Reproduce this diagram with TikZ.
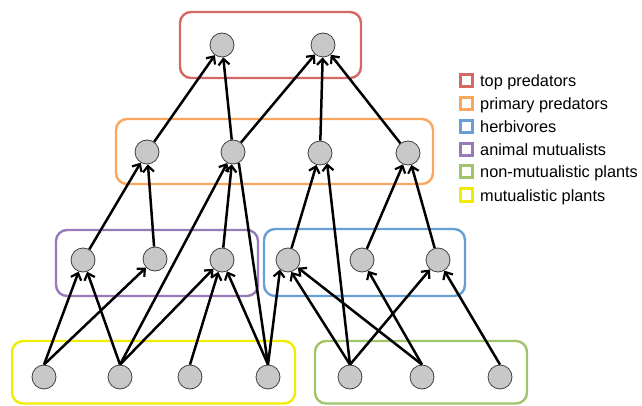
\documentclass[tikz,border=0pt]{standalone}
\usepackage{fontspec}
\setmainfont{Liberation Sans}
\usetikzlibrary{arrows.meta}
\definecolor{cred}{RGB}{214,104,100}
\definecolor{corange}{RGB}{250,166,92}
\definecolor{cblue}{RGB}{104,158,214}
\definecolor{cpurple}{RGB}{152,122,186}
\definecolor{cgreen}{RGB}{162,196,104}
\definecolor{cyellow}{RGB}{242,236,0}
\definecolor{nodefill}{RGB}{200,200,200}
\begin{document}
\begin{tikzpicture}[x=1pt,y=-1pt,
  sp/.style={circle,draw=black!75,fill=nodefill,line width=0.8pt,minimum size=24pt,inner sep=0pt},
  grp/.style={draw=#1,line width=2.4pt,rounded corners=11pt},
  arr/.style={-{Straight Barb[length=6pt,width=11pt,line width=2.2pt]},line width=2.5pt,black},
  plain/.style={line width=2.5pt,black},
  lkey/.style={draw=#1,line width=3pt,fill=white,minimum size=12pt,inner sep=0pt},
  ltext/.style={anchor=base west,font=\fontsize{16.3}{18}\selectfont,inner sep=0pt}]
\useasboundingbox (0,0) rectangle (642,406);
% group frames
\draw[grp=cred]    (180,12)  rectangle (361,78);
\draw[grp=corange] (116,119) rectangle (433,184);
\draw[grp=cpurple] (56,230)  rectangle (258,296);
\draw[grp=cblue]   (264,229) rectangle (465,296);
\draw[grp=cyellow] (12,341)  rectangle (295,403.5);
\draw[grp=cgreen]  (315,341) rectangle (527,403.5);
% species
\node[sp] (T1) at (222,45) {};
\node[sp] (T2) at (323,45) {};
\node[sp] (P1) at (147,152) {};
\node[sp] (P2) at (233,152) {};
\node[sp] (P3) at (320,153) {};
\node[sp] (P4) at (408,153) {};
\node[sp] (A1) at (83,260) {};
\node[sp] (A2) at (155,259) {};
\node[sp] (A3) at (222,260) {};
\node[sp] (H1) at (288,260) {};
\node[sp] (H2) at (362,260) {};
\node[sp] (H3) at (438,260) {};
\node[sp] (M1) at (44,377) {};
\node[sp] (M2) at (120,377) {};
\node[sp] (M3) at (190,377) {};
\node[sp] (M4) at (268,377) {};
\node[sp] (N1) at (350,377) {};
\node[sp] (N2) at (422,377) {};
\node[sp] (N3) at (500,377) {};
% links
\draw[arr] (P1) -- (T1);
\draw[arr] (P2) -- (T1);
\draw[arr] (P2) -- (T2);
\draw[arr] (P3) -- (T2);
\draw[arr] (P4) -- (T2);
\draw[arr] (A1) -- (P1);
\draw[arr] (A2) -- (P1);
\draw[arr] (M2.north) -- (P2);
\draw[arr] (A3) -- (P2);
\draw[plain] (P2.-62) -- (M4.north);
\draw[arr] (H1) -- (P3);
\draw[arr] (N1.north) -- (P3.-55);
\draw[arr] (H2) -- (P4);
\draw[arr] (H3) -- (P4);
\draw[arr] (M1.north) -- (A1);
\draw[arr] (M2.north) -- (A1);
\draw[arr] (M1.north) -- (A2);
\draw[arr] (M2.north) -- (A3);
\draw[arr] (M3.north) -- (A3);
\draw[arr] (M4.north) -- (A3);
\draw[arr] (M4.north) -- (H1.-130);
\draw[arr] (N1.north) -- (H1.-75);
\draw[arr] (N2.north) -- (H1);
\draw[arr] (N2.north) -- (H2);
\draw[arr] (N1.north) -- (H3);
\draw[arr] (N3.north) -- (H3);
% legend
\node[lkey=cred]    (k1) at (466,81.0) {};
\node[lkey=corange] (k2) at (466,103.5) {};
\node[lkey=cblue]   (k3) at (466,126.5) {};
\node[lkey=cpurple] (k4) at (466,149.5) {};
\node[lkey=cgreen]  (k5) at (466,172.0) {};
\node[lkey=cyellow] (k6) at (466,195.0) {};
\node[ltext] (l1) at (480,87.0)  {top predators};
\node[ltext] (l2) at (480,109.5) {primary predators};
\node[ltext] (l3) at (480,132.5) {herbivores};
\node[ltext] (l4) at (480,155.5) {animal mutualists};
\node[ltext] (l5) at (480,178.0) {non-mutualistic plants};
\node[ltext] (l6) at (480,201.0) {mutualistic plants};
\end{tikzpicture}
\end{document}
